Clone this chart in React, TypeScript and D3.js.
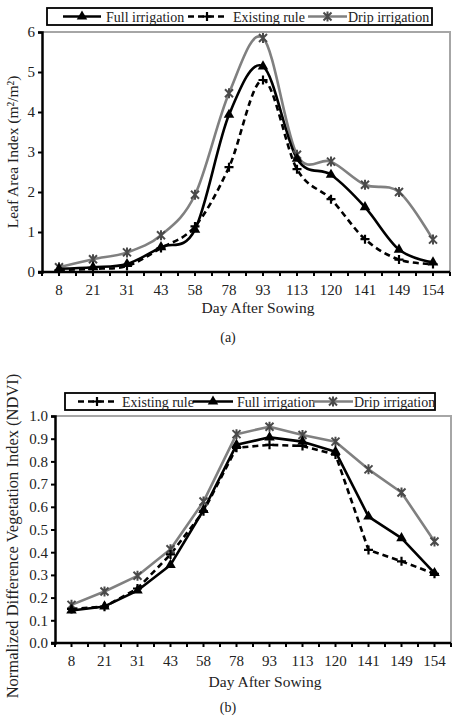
import { useEffect, useRef } from "react";
import * as d3 from "d3";

// Day after sowing (categories shared by both panels)
const days = ["8", "21", "31", "43", "58", "78", "93", "113", "120", "141", "149", "154"];

// (a) Leaf Area Index (m²/m²)
const laiFull = [0.08, 0.12, 0.2, 0.62, 1.06, 3.93, 5.14, 2.83, 2.43, 1.62, 0.56, 0.24];
const laiExisting = [0.05, 0.08, 0.15, 0.6, 1.14, 2.62, 4.8, 2.57, 1.82, 0.82, 0.31, 0.2];
const laiDrip = [0.12, 0.32, 0.49, 0.92, 1.93, 4.47, 5.85, 2.93, 2.76, 2.18, 2.0, 0.81];
const laiTicks = [0, 1, 2, 3, 4, 5, 6];

// (b) NDVI
const ndviExisting = [0.15, 0.16, 0.24, 0.39, 0.58, 0.86, 0.873, 0.868, 0.83, 0.41, 0.36, 0.305];
const ndviFull = [0.143, 0.161, 0.231, 0.344, 0.586, 0.873, 0.906, 0.887, 0.843, 0.557, 0.462, 0.308];
const ndviDrip = [0.168, 0.227, 0.296, 0.413, 0.623, 0.92, 0.953, 0.916, 0.887, 0.765, 0.663, 0.447];
const ndviTicks = [0, 0.1, 0.2, 0.3, 0.4, 0.5, 0.6, 0.7, 0.8, 0.9, 1.0];

type Kind = "full" | "exist" | "drip";

const FONT = "'Liberation Serif', 'Times New Roman', serif";
const GRAY = "#808080";

const lineStyle: Record<Kind, { stroke: string; dash: string | null }> = {
  full: { stroke: "#000", dash: null },
  exist: { stroke: "#000", dash: "6,4" },
  drip: { stroke: GRAY, dash: null },
};

function drawMarker(g: d3.Selection<SVGGElement, unknown, null, undefined>, kind: Kind, cx: number, cy: number) {
  if (kind === "full") {
    g.append("path")
      .attr("d", d3.symbol(d3.symbolTriangle, 48)())
      .attr("transform", `translate(${cx},${cy})`)
      .attr("fill", "#000");
  } else if (kind === "exist") {
    g.append("path")
      .attr("d", "M-4.5,0H4.5M0,-4.5V4.5")
      .attr("transform", `translate(${cx},${cy})`)
      .attr("stroke", "#000")
      .attr("stroke-width", 2.2);
  } else {
    g.append("path")
      .attr("d", "M-4,-4L4,4M-4,4L4,-4M0,-5V5")
      .attr("transform", `translate(${cx},${cy})`)
      .attr("stroke", "#4a4a4a")
      .attr("stroke-width", 2);
  }
}

interface Panel {
  left: number;
  right: number;
  top: number;
  bottom: number;
  yMax: number;
  ticks: number[];
  fmt: (v: number) => string;
  series: { kind: Kind; values: number[] }[];
  smooth: boolean;
  legendBox: [number, number, number, number];
  legend: { kind: Kind; label: string; x0: number; x1: number; tx: number }[];
  yTitle: string;
  yTitleY: number;
  yTitleSize: number;
  xTitleX: number;
  xTitleY: number;
  caption: string;
  captionY: number;
}

function drawPanel(svg: d3.Selection<SVGSVGElement, unknown, null, undefined>, p: Panel) {
  const g = svg.append("g");
  const x = d3.scaleBand<string>().domain(days).range([p.left, p.right]);
  const bw = x.bandwidth();
  const cx = (d: string) => (x(d) as number) + bw / 2;
  const y = d3.scaleLinear().domain([0, p.yMax]).range([p.bottom, p.top]);

  // plot border (gray top/right)
  g.append("path")
    .attr("d", `M${p.left},${p.top}H${p.right}V${p.bottom}`)
    .attr("fill", "none")
    .attr("stroke", "#a6a6a6")
    .attr("stroke-width", 2);

  // series lines
  const line = d3
    .line<number>()
    .x((_, i) => cx(days[i]))
    .y((v) => y(v))
    .curve(p.smooth ? d3.curveCardinal.tension(0) : d3.curveLinear);

  p.series.forEach((s) => {
    const st = lineStyle[s.kind];
    g.append("path")
      .datum(s.values)
      .attr("d", line)
      .attr("fill", "none")
      .attr("stroke", st.stroke)
      .attr("stroke-width", 2.6)
      .attr("stroke-dasharray", st.dash)
      .attr("stroke-linejoin", "round");
  });
  p.series.forEach((s) => {
    s.values.forEach((v, i) => drawMarker(g, s.kind, cx(days[i]), y(v)));
  });

  // axes
  const yAxis = g
    .append("g")
    .attr("transform", `translate(${p.left},0)`)
    .call(d3.axisLeft(y).tickValues(p.ticks).tickSize(4).tickPadding(3).tickFormat((d) => p.fmt(d as number)));
  yAxis.select(".domain").attr("stroke", "#000").attr("stroke-width", 2.5);
  yAxis.selectAll(".tick line").attr("stroke", "#000").attr("stroke-width", 2);
  yAxis.selectAll(".tick text").attr("font-family", FONT).attr("font-size", 15).attr("fill", "#222");

  const xTickPos: number[] = [];
  days.forEach((d) => {
    xTickPos.push(x(d) as number, cx(d));
  });
  xTickPos.push(p.right);
  g.append("g")
    .selectAll("line")
    .data(xTickPos)
    .join("line")
    .attr("x1", (d) => d)
    .attr("x2", (d) => d)
    .attr("y1", p.bottom)
    .attr("y2", p.bottom + 4)
    .attr("stroke", "#000")
    .attr("stroke-width", 2);
  g.append("line")
    .attr("x1", p.left - 4)
    .attr("x2", p.right)
    .attr("y1", p.bottom)
    .attr("y2", p.bottom)
    .attr("stroke", "#000")
    .attr("stroke-width", 2.5);
  g.append("g")
    .selectAll("text")
    .data(days)
    .join("text")
    .attr("x", (d) => cx(d))
    .attr("y", p.bottom + 23)
    .attr("text-anchor", "middle")
    .attr("font-family", FONT)
    .attr("font-size", 15)
    .attr("fill", "#222")
    .text((d) => d);

  // titles
  g.append("text")
    .attr("transform", `translate(18,${p.yTitleY}) rotate(-90)`)
    .attr("text-anchor", "middle")
    .attr("font-family", FONT)
    .attr("font-size", p.yTitleSize)
    .attr("fill", "#222")
    .text(p.yTitle);
  g.append("text")
    .attr("x", p.xTitleX)
    .attr("y", p.xTitleY)
    .attr("text-anchor", "middle")
    .attr("font-family", FONT)
    .attr("font-size", 15.5)
    .attr("fill", "#222")
    .text("Day After Sowing");
  g.append("text")
    .attr("x", 228)
    .attr("y", p.captionY)
    .attr("text-anchor", "middle")
    .attr("font-family", FONT)
    .attr("font-size", 14)
    .attr("fill", "#222")
    .text(p.caption);

  // legend
  const [bx0, by0, bx1, by1] = p.legendBox;
  const lg = g.append("g");
  lg.append("rect")
    .attr("x", bx0)
    .attr("y", by0)
    .attr("width", bx1 - bx0)
    .attr("height", by1 - by0)
    .attr("fill", "#fff")
    .attr("stroke", "#000")
    .attr("stroke-width", 1.8);
  const ly = (by0 + by1) / 2;
  p.legend.forEach((it) => {
    const st = lineStyle[it.kind];
    lg.append("line")
      .attr("x1", it.x0)
      .attr("x2", it.x1)
      .attr("y1", ly)
      .attr("y2", ly)
      .attr("stroke", st.stroke)
      .attr("stroke-width", 2.6)
      .attr("stroke-dasharray", st.dash);
    drawMarker(lg, it.kind, (it.x0 + it.x1) / 2, ly);
    lg.append("text")
      .attr("x", it.tx)
      .attr("y", ly + 5)
      .attr("font-family", FONT)
      .attr("font-size", 14)
      .attr("fill", "#222")
      .text(it.label);
  });
}

export default function App() {
  const ref = useRef<SVGSVGElement>(null);

  useEffect(() => {
    if (!ref.current) return;
    const svg = d3.select(ref.current);
    svg.selectAll("*").remove();

    drawPanel(svg, {
      left: 42,
      right: 450,
      top: 32,
      bottom: 272,
      yMax: 6,
      ticks: laiTicks,
      fmt: (v) => String(v),
      series: [
        { kind: "drip", values: laiDrip },
        { kind: "exist", values: laiExisting },
        { kind: "full", values: laiFull },
      ],
      smooth: true,
      legendBox: [47, 8, 432, 25],
      legend: [
        { kind: "full", label: "Full irrigation", x0: 63, x1: 101, tx: 106 },
        { kind: "exist", label: "Existing rule", x0: 188, x1: 226, tx: 233 },
        { kind: "drip", label: "Drip irrigation", x0: 308, x1: 347, tx: 348 },
      ],
      yTitle: "Leaf Area Index (m²/m²)",
      yTitleY: 152,
      yTitleSize: 15.5,
      xTitleX: 258,
      xTitleY: 313,
      caption: "(a)",
      captionY: 342,
    });

    drawPanel(svg, {
      left: 55,
      right: 451,
      top: 416,
      bottom: 643,
      yMax: 1,
      ticks: ndviTicks,
      fmt: d3.format(".1f"),
      series: [
        { kind: "drip", values: ndviDrip },
        { kind: "exist", values: ndviExisting },
        { kind: "full", values: ndviFull },
      ],
      smooth: false,
      legendBox: [65, 393, 435, 410],
      legend: [
        { kind: "exist", label: "Existing rule", x0: 78, x1: 116, tx: 122 },
        { kind: "full", label: "Full irrigation", x0: 193, x1: 233, tx: 237 },
        { kind: "drip", label: "Drip irrigation", x0: 313, x1: 353, tx: 354 },
      ],
      yTitle: "Normalized Difference Vegetation Index (NDVI)",
      yTitleY: 536,
      yTitleSize: 16.5,
      xTitleX: 265,
      xTitleY: 687,
      caption: "(b)",
      captionY: 712,
    });
  }, []);

  return (
    <svg
      ref={ref}
      width={456}
      height={716}
      style={{ position: "absolute", left: 0, top: 0, background: "#fff" }}
    />
  );
}
